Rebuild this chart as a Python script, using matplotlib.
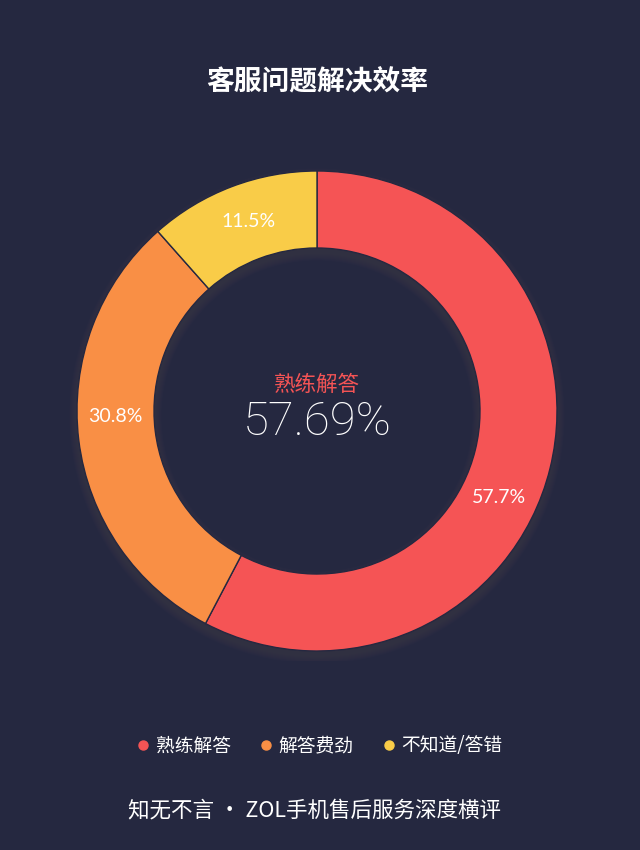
import matplotlib
matplotlib.use("Agg")
import matplotlib.pyplot as plt
from matplotlib.lines import Line2D
from matplotlib.patches import Wedge
import numpy as np

categories = ["熟练解答", "解答费劲", "不知道/答错"]
values = [57.69, 30.77, 11.54]
labels = ["57.7%", "30.8%", "11.5%"]
colors = ["#F55455", "#F98F45", "#F9CC48"]
title = "客服问题解决效率"
center_label = "熟练解答"
center_value = "57.69%"
footer = "知无不言 · ZOL手机售后服务深度横评"

# label angle nudges (degrees), style only
label_shift = [-11.5, -5.3, -0.8]

BG = "#252840"
CJK = ["Noto Sans CJK SC", "DejaVu Sans"]
NUM = ["Lato", "DejaVu Sans"]
THIN = ["Roboto", "DejaVu Sans"]

fig = plt.figure(figsize=(6.4, 8.5), dpi=100, facecolor=BG)
W, H = 640, 850
cx, cy, R = 317, 411, 240
half = 250
ax = fig.add_axes([(cx - half) / W, (H - cy - half) / H, 2 * half / W, 2 * half / H])
ax.set_facecolor(BG)
lim = half / R
ax.set_aspect("equal")
ax.axis("off")

inner = 163 / 240
width = 1 - inner

# soft drop shadow of the ring (offset downward, blurred)
off = 5 / 240
for k in range(8):
    e = 0.004 * (k + 1)
    ax.add_patch(Wedge((0, -off), 1 + e, 0, 360, width=width + 2 * e,
                       facecolor="#6a5060", edgecolor="none", alpha=0.03, zorder=0))

wedges, _ = ax.pie(values, colors=colors, startangle=90, counterclock=False,
                   radius=1, wedgeprops=dict(width=width, edgecolor=BG, linewidth=1),
                   center=(0, 0))
for w in wedges:
    w.set_zorder(2)
ax.set_xlim(-lim, lim)
ax.set_ylim(-lim, lim)

mid = (1 + inner) / 2
start = 90.0
total = sum(values)
for v, lab, sh in zip(values, labels, label_shift):
    ang = start - v / total * 360 / 2 + sh
    start -= v / total * 360
    x = mid * np.cos(np.deg2rad(ang))
    y = mid * np.sin(np.deg2rad(ang))
    ax.text(x, y, lab, ha="center", va="center", color="white", fontsize=14,
            family=NUM, zorder=6)

ax.text(0, 0.108, center_label, ha="center", va="center", color=colors[0],
        fontsize=15.5, family=CJK, zorder=6)
ax.text(0, -0.046, center_value, ha="center", va="center", color="white",
        fontsize=34, family=THIN, fontweight="light", zorder=6)

fig.text(317 / W, 1 - 82 / H, title, ha="center", va="center", color="white",
         fontsize=20, fontweight="bold", family=CJK)

handles = [Line2D([], [], marker="o", linestyle="none", markersize=6.5,
                  markerfacecolor=c, markeredgecolor=c) for c in colors]
leg = fig.legend(handles, categories, loc="center", bbox_to_anchor=(320 / W, 1 - 746 / H),
                 ncol=3, frameon=False, handletextpad=0.35, columnspacing=1.6,
                 handlelength=0.6, prop={"family": CJK, "size": 13.5})
for t in leg.get_texts():
    t.set_color("white")

fig.text(315 / W, 1 - 810 / H, footer, ha="center", va="center", color="white",
         fontsize=15.5, family=CJK)

fig.savefig("out.png", dpi=100, facecolor=BG)
